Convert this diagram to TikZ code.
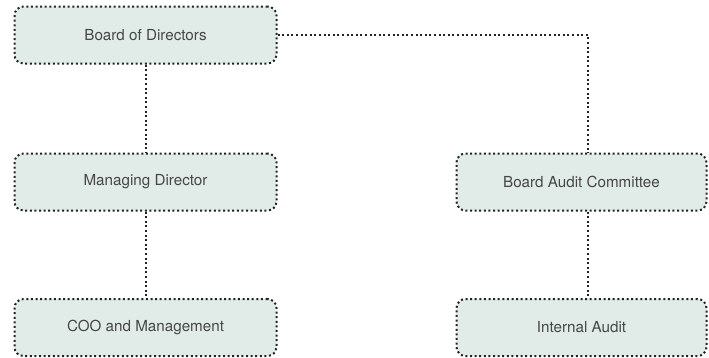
\documentclass[tikz,border=0pt]{standalone}
\usepackage{fontspec}
\setmainfont{TeX Gyre Heros}
\usetikzlibrary{calc}
\definecolor{boxfill}{RGB}{225,236,233}
\definecolor{dotline}{RGB}{35,35,35}
\definecolor{labeltext}{RGB}{70,70,70}
\tikzset{
  orgbox/.style={rectangle, rounded corners=9pt, draw=dotline, fill=boxfill,
                 line width=2pt, dash pattern=on 2pt off 2.6pt,
                 minimum height=57pt, inner sep=0pt, text=labeltext,
                 font=\fontsize{15.2}{18}\selectfont},
  orgwide/.style={orgbox, minimum width=262pt},
  orgnarrow/.style={orgbox, minimum width=250pt},
  orglink/.style={draw=dotline, line width=2pt, dash pattern=on 2pt off 2.6pt},
}

\begin{document}
\begin{tikzpicture}[x=1pt, y=-1pt]
  \useasboundingbox (0,0) rectangle (709,357);
  % left column
  \node[orgwide] (board) at (145.5,35) {Board of Directors};
  \node[orgwide] (md)    at (145.5,182) {Managing Director};
  \node[orgwide] (coo)   at (145.5,327.5) {COO and Management};
  % audit column
  \node[orgnarrow] (bac) at (581.5,182) {Board Audit Committee};
  \node[orgnarrow] (ia)  at (581.5,327.5) {Internal Audit};
  \coordinate (turn) at (588,35);
  \draw[orglink] (board.south) -- (md.north);
  \draw[orglink] (md.south) -- (coo.north);
  \draw[orglink] (board.east) -- (turn) -- (bac.north -| turn);
  \draw[orglink] (bac.south -| turn) -- (ia.north -| turn);
\end{tikzpicture}
\end{document}
